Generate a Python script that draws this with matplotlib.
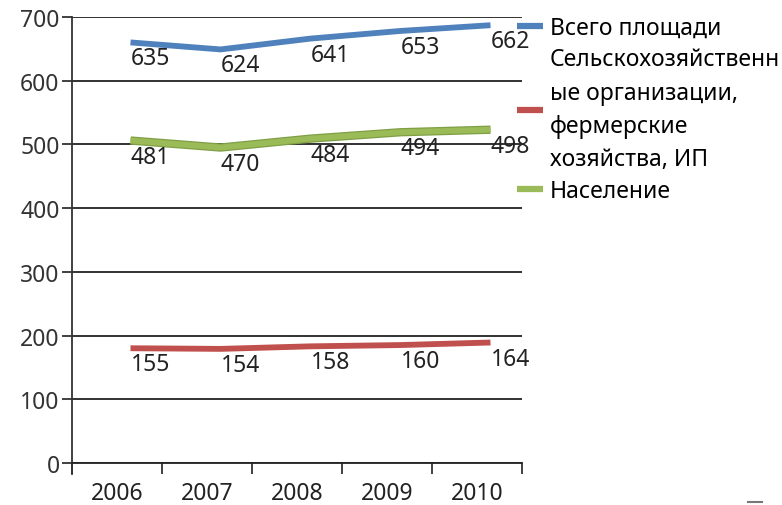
import matplotlib
matplotlib.use("Agg")
import matplotlib.pyplot as plt
import matplotlib.transforms as mtransforms
import matplotlib.patheffects as pe
from matplotlib.lines import Line2D

years = ["2006", "2007", "2008", "2009", "2010"]
total = [635, 624, 641, 653, 662]
farms = [155, 154, 158, 160, 164]
people = [481, 470, 484, 494, 498]
names = ["Всего площади",
         "Сельскохозяйственн\nые организации,\nфермерские\nхозяйства, ИП",
         "Население"]
colors = ["#4F81BD", "#C0504D", "#9BBB59"]
yticks = [0, 100, 200, 300, 400, 500, 600, 700]

plt.rcParams["font.family"] = ["Noto Sans", "DejaVu Sans"]
fs = 16.5

fig = plt.figure(figsize=(7.82, 5.06), dpi=100)
ax = fig.add_axes([72/782, 1-464/506, 450/782, 446/506])
x = list(range(1, len(years)+1))

# lines are drawn shifted right/up like the original (3D-ish offset)
shift = mtransforms.ScaledTranslation(13.5/100, 16/100, fig.dpi_scale_trans)
for vals, c in zip([total, farms, people], colors):
    effects = None
    if c == "#9BBB59":
        effects = [pe.Stroke(linewidth=6, foreground="#7F9F45"), pe.Normal()]
    ax.plot(x, vals, color=c, lw=4.2, solid_capstyle="butt", solid_joinstyle="round",
            transform=ax.transData + shift, zorder=3, path_effects=effects, clip_on=False)
    for xi, v in zip(x, vals):
        ax.annotate(str(v), (xi, v), xytext=(10, 0), textcoords="offset points",
                    ha="left", va="center", fontsize=fs, color="#222222", zorder=4)

ax.set_xlim(0.5, len(years)+0.5)
ax.set_ylim(0, 700)
ax.set_yticks(yticks)
ax.set_yticklabels([str(t) for t in yticks], fontsize=fs, color="#333333")
ax.yaxis.grid(True, color="#222222", lw=1.3)
ax.set_axisbelow(True)
ax.tick_params(axis="y", length=7, width=1.3, color="#333333", pad=2)

# category labels at centers, ticks at boundaries
ax.set_xticks([i + 0.5 for i in range(len(years)+1)])
ax.set_xticklabels([])
ax.tick_params(axis="x", length=8, width=1.3, color="#333333")
for xi, lab in zip(x, years):
    ax.text(xi, -0.068, lab, transform=ax.get_xaxis_transform(), ha="center", va="center",
            fontsize=fs, color="#222222")

for s in ["top", "right"]:
    ax.spines[s].set_visible(False)
ax.spines["left"].set_color("#333333")
ax.spines["left"].set_linewidth(1.3)
ax.spines["left"].set_bounds(-18, 700)
ax.spines["bottom"].set_color("#222222")
ax.spines["bottom"].set_linewidth(1.3)

handles = [Line2D([], [], color=c, lw=4.5, solid_capstyle="butt") for c in colors]
leg = fig.legend(handles, names, loc="upper left", bbox_to_anchor=(517/782, 1-17/506),
                 frameon=False, fontsize=fs, handlelength=1.13, handletextpad=0.3,
                 labelspacing=0.32, borderaxespad=0, borderpad=0)
for t in leg.get_texts():
    t.set_linespacing(1.52)

fig.add_artist(Line2D([748/782, 762/782], [1-503/506, 1-503/506], color="#777777", lw=1.5))

fig.savefig("out.png", dpi=100)
